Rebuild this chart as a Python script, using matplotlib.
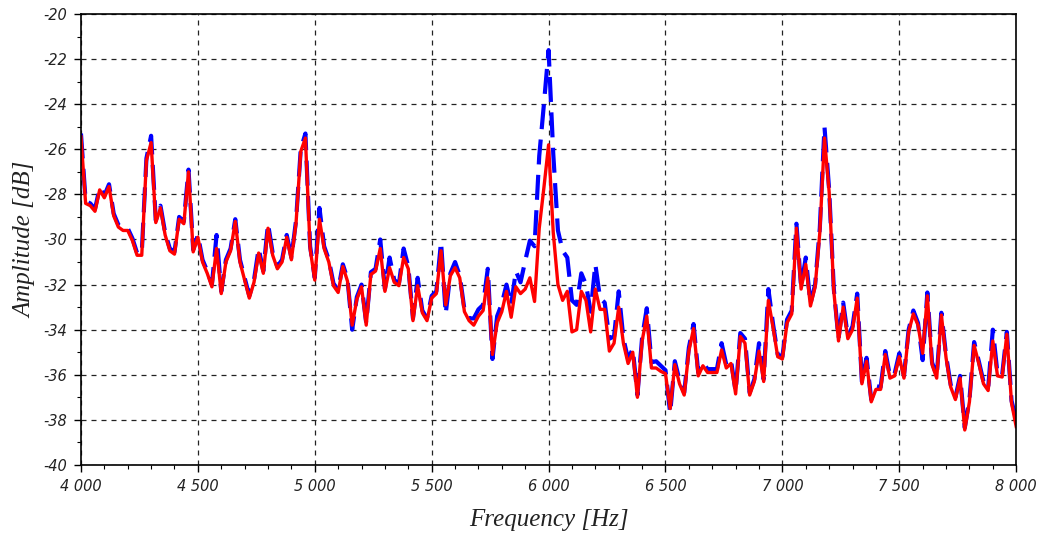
import numpy as np
import matplotlib
matplotlib.use("Agg")
import matplotlib.pyplot as plt
from matplotlib.ticker import MultipleLocator, FuncFormatter

# frequency axis, one point every 20 Hz
freq_start = 4000
freq_stop = 8000
freq_step = 20

# blue (dashed) spectrum, dB
amp_blue = [
    -25.3, -28.3, -28.4, -28.65, -27.7, -28.05, -27.55, -28.85, -29.35, -29.5,   # 4000
    -29.5, -29.95, -30.6, -30.6, -26.4, -25.4, -29.15, -28.5, -29.7, -30.4,      # 4200
    -30.55, -29.0, -29.2, -26.9, -30.45, -29.8, -30.9, -31.4, -32.0, -29.8,      # 4400
    -32.3, -30.9, -30.4, -29.1, -30.9, -31.7, -32.5, -31.8, -30.4, -31.4,        # 4600
    -29.3, -30.6, -31.2, -30.9, -29.8, -30.8, -29.15, -26.0, -25.3, -30.3,       # 4800
    -31.7, -28.6, -30.3, -30.9, -31.95, -32.25, -31.1, -31.75, -34.0, -32.55,    # 5000
    -32.0, -33.7, -31.45, -31.3, -30.0, -32.2, -30.8, -31.8, -31.95, -30.4,      # 5200
    -31.2, -33.5, -31.7, -33.15, -33.5, -32.5, -32.3, -30.1, -33.3, -31.5,       # 5400
    -31.0, -31.6, -33.1, -33.5, -33.5, -33.1, -32.9, -31.3, -35.3, -33.4,        # 5600
    -32.85, -32.0, -32.9, -31.4, -31.9, -30.95, -30.05, -30.3, -26.3, -24.0,     # 5800
    -21.6, -26.2, -29.6, -30.5, -30.8, -32.7, -32.9, -31.5, -32.0, -33.2,        # 6000
    -31.1, -32.6, -32.8, -34.4, -34.3, -32.3, -34.4, -35.3, -34.85, -36.9,       # 6200
    -34.35, -33.05, -35.45, -35.4, -35.6, -35.8, -37.7, -35.4, -36.25, -36.8,    # 6400
    -34.8, -33.75, -35.9, -35.45, -35.75, -35.75, -35.75, -34.6, -35.55, -35.35, # 6600
    -36.75, -34.15, -34.4, -36.8, -36.2, -34.6, -36.2, -32.2, -33.75, -35.1,     # 6800
    -35.2, -33.55, -33.15, -29.3, -32.1, -30.8, -32.85, -32.0, -29.5, -25.0,     # 7000
    -27.8, -32.2, -34.4, -32.8, -34.3, -33.85, -32.4, -36.3, -35.25, -37.1,      # 7200
    -36.5, -36.55, -34.95, -36.05, -35.95, -35.05, -36.05, -34.0, -33.15, -33.7, # 7400
    -35.35, -32.35, -35.45, -36.05, -33.25, -35.15, -36.45, -37.0, -36.05, -38.35,  # 7600
    -37.1, -34.55, -35.4, -36.3, -36.6, -34.0, -35.95, -36.0, -34.1, -37.15,     # 7800
    -38.0,                                                                        # 8000
]

# red (solid) spectrum, dB
amp_red = [
    -25.45, -28.4, -28.5, -28.75, -27.8, -28.15, -27.65, -28.95, -29.45, -29.6,
    -29.6, -30.05, -30.7, -30.7, -26.5, -25.7, -29.25, -28.6, -29.8, -30.5,
    -30.65, -29.1, -29.3, -27.0, -30.55, -29.9, -31.0, -31.5, -32.1, -30.4,
    -32.4, -31.0, -30.5, -29.2, -31.0, -31.8, -32.6, -31.9, -30.6, -31.5,
    -29.5, -30.7, -31.3, -31.0, -29.9, -30.9, -29.25, -26.1, -25.5, -30.4,
    -31.8, -29.1, -30.4, -31.0, -32.05, -32.35, -31.2, -31.85, -33.8, -32.65,
    -32.1, -33.8, -31.55, -31.4, -30.4, -32.3, -31.25, -31.9, -32.05, -30.8,
    -31.3, -33.6, -32.05, -33.25, -33.6, -32.6, -32.4, -30.5, -32.9, -31.6,
    -31.25, -31.7, -33.2, -33.6, -33.8, -33.4, -33.15, -31.7, -35.1, -33.7,
    -33.2, -32.3, -33.45, -32.1, -32.4, -32.2, -31.7, -32.75, -29.5, -27.7,
    -25.8, -29.7, -32.0, -32.7, -32.3, -34.1, -34.0, -32.3, -32.7, -34.1,
    -32.2, -33.1, -33.1, -34.95, -34.6, -33.0, -34.6, -35.5, -35.0, -37.0,
    -34.5, -33.4, -35.7, -35.7, -35.85, -35.95, -37.5, -35.55, -36.4, -36.9,
    -34.95, -33.95, -36.05, -35.6, -35.9, -35.9, -35.9, -34.9, -35.7, -35.5,
    -36.85, -34.3, -34.6, -36.9, -36.3, -34.95, -36.3, -32.7, -33.9, -35.2,
    -35.3, -33.7, -33.3, -29.5, -32.2, -31.1, -32.95, -32.1, -29.7, -25.5,
    -27.9, -32.3, -34.5, -33.0, -34.4, -34.0, -32.6, -36.4, -35.4, -37.2,
    -36.65, -36.65, -35.1, -36.15, -36.05, -35.2, -36.15, -34.1, -33.3, -33.8,
    -35.05, -32.5, -35.55, -36.15, -33.35, -35.25, -36.55, -37.1, -36.15, -38.45,
    -37.2, -34.7, -35.5, -36.4, -36.7, -34.5, -36.05, -36.1, -34.2, -37.25,
    -38.3,
]

freq = np.arange(freq_start, freq_stop + 1, freq_step)

plt.rcParams['axes.unicode_minus'] = False

fig = plt.figure(figsize=(10.38, 5.40), dpi=100)
ax = fig.add_axes([0.078, 0.139, 0.901, 0.835])

ax.plot(freq, amp_blue, color='#0000ff', lw=3.0, linestyle=(0, (6, 2.5)))
ax.plot(freq, amp_red, color='#ff0000', lw=2.4)

ax.set_xlim(4000, 8000)
ax.set_ylim(-40, -20)

ax.xaxis.set_major_locator(MultipleLocator(500))
ax.xaxis.set_minor_locator(MultipleLocator(100))
ax.yaxis.set_major_locator(MultipleLocator(2))
ax.yaxis.set_minor_locator(MultipleLocator(1))
ax.xaxis.set_major_formatter(FuncFormatter(lambda v, p: f"{int(v):,}".replace(",", " ")))
ax.yaxis.set_major_formatter(FuncFormatter(lambda v, p: f"{int(round(v))}"))

ax.tick_params(which='major', length=5, width=1, labelsize=10.5, pad=5, labelcolor='#222222')
ax.tick_params(which='minor', length=3, width=0.8)
for lbl in ax.get_xticklabels() + ax.get_yticklabels():
    lbl.set_fontstyle('italic')

ax.grid(True, which='major', color='#222222', linestyle=(0, (4, 4)), lw=0.9)

for s in ax.spines.values():
    s.set_linewidth(1.2)
    s.set_color('black')

lab_font = dict(family='Liberation Serif', style='italic', size=18)
ax.set_xlabel('Frequency [Hz]', fontdict=lab_font, labelpad=11, color='#222222')
ax.set_ylabel('Amplitude [dB]', fontdict=lab_font, labelpad=5, color='#222222')

fig.savefig('out.png', dpi=100)
